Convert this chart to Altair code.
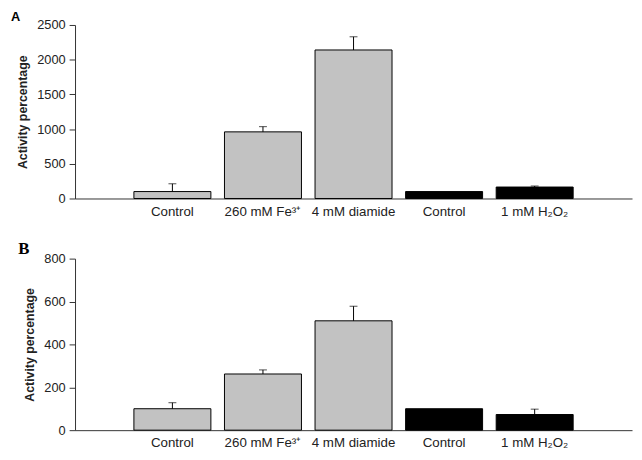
import altair as alt
import pandas as pd

# ---- data ----
bar_index = [0, 1, 2, 3, 4]
bar_labels = ["Control", "260 mM Fe³⁺", "4 mM diamide", "Control", "1 mM H₂O₂"]
bar_kind = ["treated", "treated", "treated", "control", "control"]

A_values = [100, 960, 2140, 100, 165]
A_errors = [112, 75, 190, 0, 15]
A_ticks = [0, 500, 1000, 1500, 2000, 2500]

B_values = [100, 262, 510, 100, 73]
B_errors = [28, 19, 68, 0, 25]
B_ticks = [0, 200, 400, 600, 800]

label_expr = "[" + ",".join("'" + s + "'" for s in bar_labels) + "][datum.value]"

FONT = "Liberation Sans"
AXIS_COLOR = "#333333"


def panel(values, errors, ticks, letter, letter_font, letter_size, width, height):
    df = pd.DataFrame({"idx": bar_index, "value": values, "err": errors, "kind": bar_kind})
    ymax = ticks[-1]
    x = alt.X(
        "idx:O",
        scale=alt.Scale(paddingInner=0.15, paddingOuter=0.65),
        axis=alt.Axis(
            title=None, labelExpr=label_expr, labelAngle=0, ticks=False,
            domainColor=AXIS_COLOR, labelFont=FONT, labelFontSize=13.5,
            labelColor="#222222", labelPadding=6,
        ),
    )
    yscale = alt.Scale(domain=[0, ymax], nice=False)
    yaxis = alt.Axis(
        values=ticks, format="d", labelOverlap=False, labelBound=False,
        title="Activity percentage", titleFont=FONT,
        titleFontSize=12.5, titleFontWeight="bold", titleColor="#222222",
        titlePadding=7, labelFont=FONT, labelFontSize=13, labelColor="#222222",
        domainColor=AXIS_COLOR, tickColor=AXIS_COLOR, tickSize=6,
        labelPadding=4, grid=False,
    )
    base = alt.Chart(df).encode(x=x)
    bars = base.mark_bar(stroke="black", strokeWidth=1).encode(
        y=alt.Y("value:Q", scale=yscale, axis=yaxis),
        color=alt.Color(
            "kind:N",
            scale=alt.Scale(domain=["treated", "control"], range=["#c2c2c2", "#000000"]),
            legend=None,
        ),
    )
    err_base = base.transform_filter("datum.err > 0").transform_calculate(
        upper="datum.value + datum.err"
    )
    err_rule = err_base.mark_rule(color="black", strokeWidth=1).encode(
        y=alt.Y("value:Q", scale=yscale, axis=yaxis), y2="upper:Q"
    )
    err_cap = err_base.mark_tick(color="black", thickness=1, size=8).encode(
        y=alt.Y("upper:Q", scale=yscale, axis=yaxis)
    )
    return alt.layer(bars, err_rule, err_cap).properties(
        width=width,
        height=height,
        title=alt.TitleParams(
            letter, anchor="start", frame="bounds", font=letter_font,
            fontSize=letter_size, fontWeight="bold", color="black", offset=-5, dx=-6,
        ),
    )


chart_a = panel(A_values, A_errors, A_ticks, "A", FONT, 13, 565, 176)
chart_b = panel(B_values, B_errors, B_ticks, "B", "Liberation Serif", 17, 565, 174)

chart = (
    alt.vconcat(chart_a, chart_b, spacing=22)
    .properties(padding={"left": 3, "top": 0, "right": 2, "bottom": 5})
    .configure_view(stroke=None)
)

chart.save("out.html", embed_options={"renderer": "svg", "actions": False})
